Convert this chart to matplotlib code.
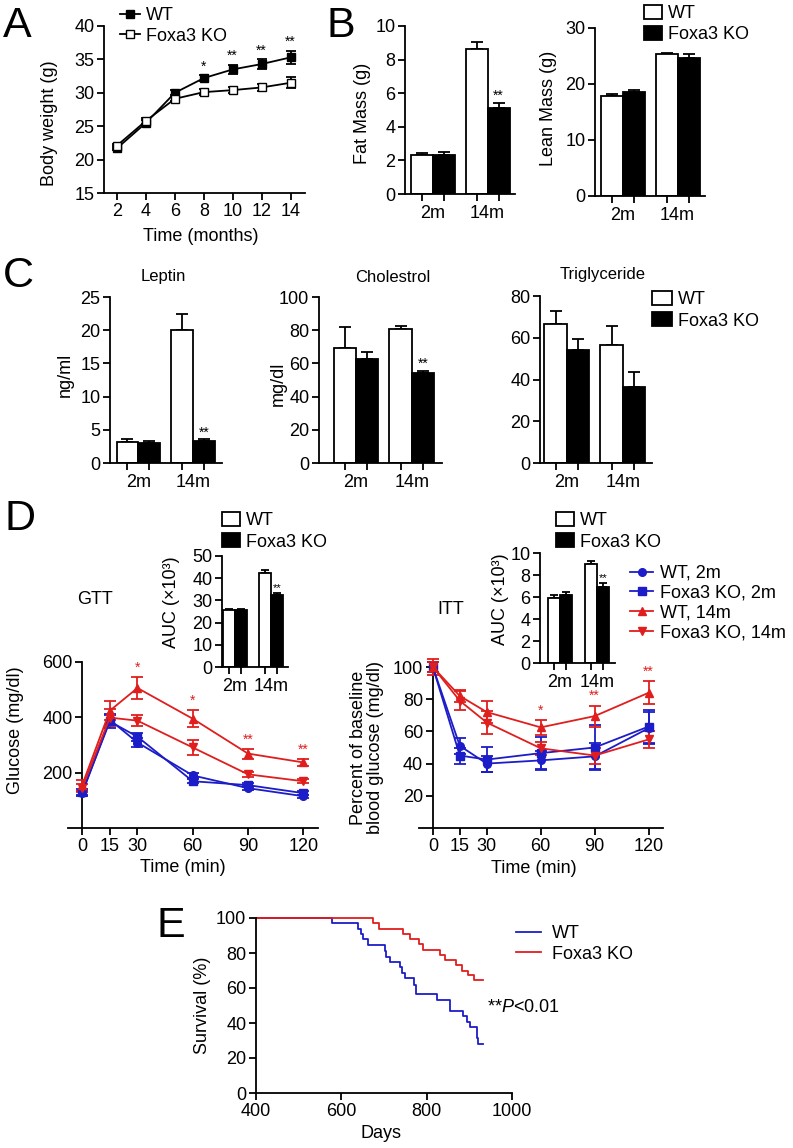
import matplotlib
matplotlib.use('Agg')
import matplotlib.pyplot as plt
import numpy as np
from matplotlib.lines import Line2D
from matplotlib.patches import Patch

plt.rcParams['font.family'] = ['Liberation Sans', 'DejaVu Sans']
plt.rcParams['mathtext.fontset'] = 'custom'
plt.rcParams['mathtext.rm'] = 'Liberation Sans'
plt.rcParams['mathtext.it'] = 'Liberation Sans:italic'

# ---------------- data ----------------
# A: body weight
months = [2, 4, 6, 8, 10, 12, 14]
bw_wt = [21.7, 25.5, 30.0, 32.2, 33.5, 34.3, 35.3]
bw_wt_err = [0.3, 0.4, 0.4, 0.4, 0.7, 0.7, 1.0]
bw_ko = [22.1, 25.8, 29.1, 30.1, 30.4, 30.8, 31.5]
bw_ko_err = [0.3, 0.4, 0.3, 0.4, 0.5, 0.5, 0.8]
bw_stars = ['', '', '', '*', '**', '**', '**']

groups = ['2m', '14m']
# B
fat_wt = [2.35, 8.65]; fat_wt_err = [0.1, 0.4]
fat_ko = [2.35, 5.1]; fat_ko_err = [0.15, 0.3]
lean_wt = [17.9, 25.3]; lean_wt_err = [0.3, 0.3]
lean_ko = [18.5, 24.6]; lean_ko_err = [0.4, 0.7]
# C
leptin_wt = [3.2, 20.1]; leptin_wt_err = [0.4, 2.4]
leptin_ko = [3.0, 3.35]; leptin_ko_err = [0.3, 0.2]
chol_wt = [69.5, 80.5]; chol_wt_err = [12.5, 2.2]
chol_ko = [62.5, 54.0]; chol_ko_err = [4.2, 1.5]
tg_wt = [66.5, 56.5]; tg_wt_err = [6.5, 9.0]
tg_ko = [54.0, 36.5]; tg_ko_err = [5.2, 7.0]
# D
times = [0, 15, 30, 60, 90, 120]
gtt_wt2m = [125, 391, 309, 190, 144, 115]; gtt_wt2m_err = [10, 20, 15, 8, 8, 6]
gtt_ko2m = [130, 385, 330, 169, 155, 126]; gtt_ko2m_err = [10, 25, 15, 8, 8, 8]
gtt_wt14m = [155, 424, 506, 395, 269, 237]; gtt_wt14m_err = [20, 35, 40, 30, 18, 14]
gtt_ko14m = [145, 399, 388, 291, 194, 169]; gtt_ko14m_err = [15, 30, 20, 28, 8, 8]
gtt_stars = ['', '', '*', '*', '**', '**']
itt_wt2m = [100, 51, 40, 42, 44.5, 62]; itt_wt2m_err = [3, 5, 5, 6, 8, 10]
itt_ko2m = [100, 45, 42.5, 46.5, 50, 63]; itt_ko2m_err = [3, 5, 8, 10, 14, 10]
itt_wt14m = [100, 82, 72, 62.5, 69.5, 84]; itt_wt14m_err = [3, 4, 7, 4.5, 6.5, 7]
itt_ko14m = [100, 79, 65.5, 49.5, 45, 55]; itt_ko14m_err = [5, 6, 7, 4, 5, 5]
itt_stars = ['', '', '', '*', '**', '**']
auc_gtt_wt = [25.6, 42.5]; auc_gtt_wt_err = [0.5, 1.3]
auc_gtt_ko = [25.6, 32.4]; auc_gtt_ko_err = [0.5, 0.8]
auc_itt_wt = [5.9, 9.0]; auc_itt_wt_err = [0.25, 0.25]
auc_itt_ko = [6.2, 6.9]; auc_itt_ko_err = [0.3, 0.4]
# E: Kaplan-Meier steps
surv_wt_days = [400, 578, 640, 646, 651, 663, 702, 704, 714, 738, 743, 750, 771, 775, 824, 855, 886, 894, 902, 917, 921, 932]
surv_wt = [100, 97, 94, 91, 88, 84.5, 81, 78, 75, 72, 68.5, 65.5, 62, 56.5, 53, 47, 44, 40.5, 37.5, 31.5, 28, 28]
surv_ko_days = [400, 674, 689, 745, 762, 782, 792, 831, 843, 869, 883, 897, 911, 932]
surv_ko = [100, 97, 94, 91, 88, 85, 82, 79, 76, 73, 70, 67.5, 64.6, 64.6]

BLUE = '#1c1cc8'
RED = '#e01e1e'
LW = 1.3
FS = 13

W, H = 793, 1148
fig = plt.figure(figsize=(W / 100, H / 100), dpi=100)


def px_axes(L, T, R, B):
    return fig.add_axes([L / W, 1 - B / H, (R - L) / W, (B - T) / H])


def prism(ax, fs=FS):
    for s in ['top', 'right']:
        ax.spines[s].set_visible(False)
    for s in ['left', 'bottom']:
        ax.spines[s].set_linewidth(LW)
    ax.tick_params(direction='out', length=5, width=LW, labelsize=fs, pad=2)


def ylab(ax, txt, x, y, **kw):
    ax.set_ylabel(txt, fontsize=FS, va='center', **kw)
    ax.yaxis.set_label_coords(x, y)


def xlab(ax, txt, x, y):
    ax.set_xlabel(txt, fontsize=FS, va='center')
    ax.xaxis.set_label_coords(x, y)


def bar_panel(ax, wt, wt_err, ko, ko_err, width, stars=None, fs=FS, capsize=4, star_fs=10):
    x = np.arange(len(groups))
    ax.bar(x - width / 2, wt, width, color='white', edgecolor='black', lw=LW, zorder=2)
    ax.bar(x + width / 2, ko, width, color='black', edgecolor='black', lw=LW, zorder=2)
    for xx, v, e in [(x - width / 2, wt, wt_err), (x + width / 2, ko, ko_err)]:
        ax.errorbar(xx, v, yerr=[np.zeros(len(v)), e], fmt='none', ecolor='black',
                    elinewidth=LW, capsize=capsize, capthick=LW, zorder=1)
    prism(ax, fs)
    ax.set_xticks(np.concatenate([x - width / 2, x + width / 2]))
    ax.set_xticklabels([])
    ax.set_xticks(x, minor=True)
    ax.set_xticklabels(groups, minor=True, fontsize=fs)
    ax.tick_params(axis='x', which='minor', length=0, pad=8)
    if stars:
        for i, s in enumerate(stars):
            if s:
                ax.text(x[i] + width / 2, ko[i] + ko_err[i], s, ha='center', va='bottom',
                        fontsize=star_fs)


def legend_at(handles, labels, x_px, y_px, fs=FS, **kw):
    opts = dict(loc='upper left', frameon=False, fontsize=fs, borderpad=0,
                borderaxespad=0, handletextpad=0.35, labelspacing=0.2, handlelength=1.1)
    opts.update(kw)
    return fig.legend(handles, labels, bbox_to_anchor=(x_px / W, 1 - y_px / H), **opts)


def letter(txt, x, y):
    fig.text(x / W, 1 - y / H, txt, fontsize=31, ha='left', va='baseline')


bar_handles = [Patch(facecolor='white', edgecolor='black', lw=LW),
               Patch(facecolor='black', edgecolor='black', lw=LW)]
bar_labels = ['WT', 'Foxa3 KO']

# ---------------- A ----------------
axA = px_axes(104, 26, 305, 193)
axA.errorbar(months, bw_wt, yerr=bw_wt_err, color='black', marker='s', ms=5.5, mfc='black',
             lw=LW, capsize=3.5, capthick=LW, elinewidth=LW, zorder=3)
axA.errorbar(months, bw_ko, yerr=bw_ko_err, color='black', marker='s', ms=5.5, mfc='white',
             lw=LW, capsize=3.5, capthick=LW, elinewidth=LW, zorder=3)
for m, v, e, s in zip(months, bw_wt, bw_wt_err, bw_stars):
    if s:
        axA.text(m, v + e + 0.3, s, ha='center', va='bottom', fontsize=10)
axA.set_xlim(1.1, 15)
axA.set_ylim(15, 40)
axA.set_xticks(months)
axA.set_yticks([15, 20, 25, 30, 35, 40])
prism(axA)
ylab(axA, 'Body weight (g)', -0.27, 0.42)
xlab(axA, 'Time (months)', 0.48, -0.263)
legend_at([Line2D([], [], color='k', marker='s', ms=5.5, mfc='k', lw=LW),
           Line2D([], [], color='k', marker='s', ms=5.5, mfc='white', lw=LW)],
          bar_labels, 120, 7)
letter('A', 3, 37)

# ---------------- B ----------------
axF = px_axes(405, 26, 515, 194)
bar_panel(axF, fat_wt, fat_wt_err, fat_ko, fat_ko_err, 0.4, stars=['', '**'])
axF.set_xlim(-0.5, 1.5)
axF.set_ylim(0, 10)
axF.set_yticks([0, 2, 4, 6, 8, 10])
ylab(axF, 'Fat Mass (g)', -0.39, 0.48)

axL = px_axes(595, 28, 705, 196)
bar_panel(axL, lean_wt, lean_wt_err, lean_ko, lean_ko_err, 0.4)
axL.set_xlim(-0.5, 1.5)
axL.set_ylim(0, 30)
axL.set_yticks([0, 10, 20, 30])
ylab(axL, 'Lean Mass (g)', -0.42, 0.52)
legend_at(bar_handles, bar_labels, 644, 5, handlelength=1.0, handleheight=0.8)
letter('B', 327, 37)

# ---------------- C ----------------
axLep = px_axes(110, 297, 222, 463)
bar_panel(axLep, leptin_wt, leptin_wt_err, leptin_ko, leptin_ko_err, 0.4, stars=['', '**'])
axLep.set_xlim(-0.52, 1.53)
axLep.set_ylim(0, 25)
axLep.set_yticks([0, 5, 10, 15, 20, 25])
ylab(axLep, 'ng/ml', -0.40, 0.53)

axCh = px_axes(319, 297, 442, 463)
bar_panel(axCh, chol_wt, chol_wt_err, chol_ko, chol_ko_err, 0.4, stars=['', '**'])
axCh.set_xlim(-0.66, 1.54)
axCh.set_ylim(0, 100)
axCh.set_yticks([0, 20, 40, 60, 80, 100])
ylab(axCh, 'mg/dl', -0.33, 0.48)

axTg = px_axes(540, 296, 652, 463)
bar_panel(axTg, tg_wt, tg_wt_err, tg_ko, tg_ko_err, 0.4)
axTg.set_xlim(-0.48, 1.52)
axTg.set_ylim(0, 80)
axTg.set_yticks([0, 20, 40, 60, 80])

for txt, xc, yc in [('Leptin', 163, 277), ('Cholestrol', 393, 277), ('Triglyceride', 603, 274)]:
    fig.text(xc / W, 1 - yc / H, txt, ha='center', va='center', fontsize=12)
legend_at(bar_handles, bar_labels, 652, 291, handlelength=1.1, handleheight=0.85)
letter('C', 3, 287)

# ---------------- D ----------------
series = [(gtt_wt2m, gtt_wt2m_err, itt_wt2m, itt_wt2m_err, BLUE, 'o', 'WT, 2m'),
          (gtt_ko2m, gtt_ko2m_err, itt_ko2m, itt_ko2m_err, BLUE, 's', 'Foxa3 KO, 2m'),
          (gtt_wt14m, gtt_wt14m_err, itt_wt14m, itt_wt14m_err, RED, '^', 'WT, 14m'),
          (gtt_ko14m, gtt_ko14m_err, itt_ko14m, itt_ko14m_err, RED, 'v', 'Foxa3 KO, 14m')]

axG = px_axes(68, 662, 318, 828)
axI = px_axes(419, 667, 663, 828)
for g, ge, it, ie, c, mk, lab in series:
    for ax, v, e in [(axG, g, ge), (axI, it, ie)]:
        cont = ax.errorbar(times, v, yerr=e, color=c, marker=mk, ms=5.5, lw=LW,
                           capsize=4, capthick=LW, elinewidth=LW, zorder=3)
        for art in cont.get_children():
            art.set_clip_on(False)
for t, v, e, s in zip(times, gtt_wt14m, gtt_wt14m_err, gtt_stars):
    if s:
        axG.text(t, v + e + 8, s, ha='center', va='bottom', fontsize=10, color=RED)
for t, v, e, s in zip(times, itt_wt14m, itt_wt14m_err, itt_stars):
    if s:
        axI.text(t, v + e + 1.5, s, ha='center', va='bottom', fontsize=10, color=RED)

for ax, ymax, yt in [(axG, 600, [200, 400, 600]), (axI, 100, [20, 40, 60, 80, 100])]:
    prism(ax)
    ax.spines['left'].set_position(('data', 0))
    ax.set_xlim(-7.7, 128)
    ax.set_ylim(0, ymax)
    ax.set_xticks(times)
    ax.set_yticks(yt)
xlab(axG, 'Time (min)', 0.46, -0.24)
xlab(axI, 'Time (min)', 0.47, -0.25)
ylab(axG, 'Glucose (mg/dl)', -0.21, 0.59)
ylab(axI, 'Percent of baseline\nblood glucose (mg/dl)', -0.213, 0.5, linespacing=1.05)

fig.text(95 / W, 1 - 600 / H, 'GTT', ha='center', va='center', fontsize=FS)
fig.text(451 / W, 1 - 610 / H, 'ITT', ha='center', va='center', fontsize=FS)

axGi = px_axes(222, 556, 288, 667)
bar_panel(axGi, auc_gtt_wt, auc_gtt_wt_err, auc_gtt_ko, auc_gtt_ko_err, 0.33,
          stars=['', '**'], capsize=3, star_fs=8)
axGi.set_xlim(-0.36, 1.47)
axGi.set_ylim(0, 50)
axGi.set_yticks([0, 10, 20, 30, 40, 50])
ylab(axGi, 'AUC (×10³)', -0.76, 0.58)

axIi = px_axes(540, 553, 615, 663)
bar_panel(axIi, auc_itt_wt, auc_itt_wt_err, auc_itt_ko, auc_itt_ko_err, 0.33,
          stars=['', '**'], capsize=3, star_fs=8)
axIi.set_xlim(-0.54, 1.49)
axIi.set_ylim(0, 10)
axIi.set_yticks([0, 2, 4, 6, 8, 10])
ylab(axIi, 'AUC (×10³)', -0.53, 0.58)

legend_at(bar_handles, bar_labels, 222, 512, handlelength=1.0, handleheight=0.85)
legend_at(bar_handles, bar_labels, 556, 512, handlelength=1.0, handleheight=0.85)
legend_at([Line2D([], [], color=c, marker=mk, ms=5.5, lw=LW) for *_, c, mk, lab in series],
          [lab for *_, lab in series], 630, 565, handlelength=1.3, labelspacing=0.15)
letter('D', 4, 530)

# ---------------- E ----------------
axE = px_axes(256, 918, 512, 1093)
axE.step(surv_wt_days, surv_wt, where='post', color=BLUE, lw=LW, clip_on=False)
axE.step(surv_ko_days, surv_ko, where='post', color=RED, lw=LW, clip_on=False)
prism(axE)
axE.set_xlim(400, 1000)
axE.set_ylim(0, 100)
axE.set_xticks([400, 600, 800, 1000])
axE.set_yticks([0, 20, 40, 60, 80, 100])
xlab(axE, 'Days', 0.49, -0.229)
ylab(axE, 'Survival (%)', -0.21, 0.5)
legend_at([Line2D([], [], color=BLUE, lw=LW), Line2D([], [], color=RED, lw=LW)],
          ['WT', 'Foxa3 KO'], 516, 925, handlelength=1.4, handletextpad=0.6)
fig.text(487 / W, 1 - 1007 / H, '**$P$<0.01', ha='left', va='center', fontsize=FS)
letter('E', 157, 937)

fig.savefig('out.png', dpi=100)
